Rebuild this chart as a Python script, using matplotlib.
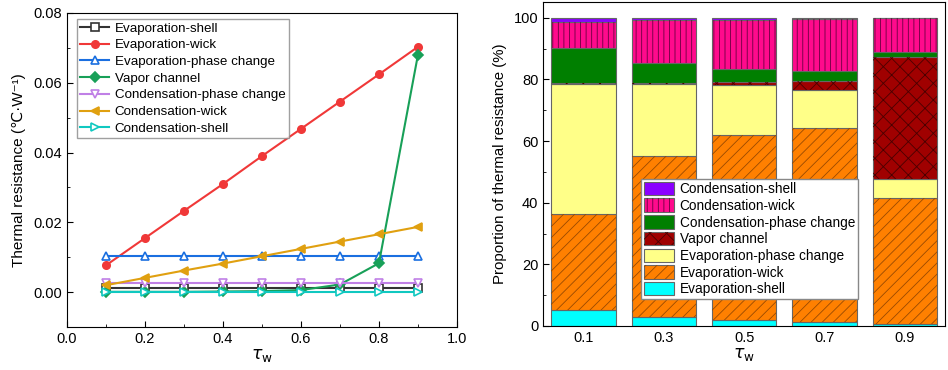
import matplotlib
matplotlib.use("Agg")
import matplotlib.pyplot as plt
from matplotlib.patches import Patch
from matplotlib.ticker import MultipleLocator
import numpy as np

plt.rcParams['font.family'] = ['Liberation Sans', 'DejaVu Sans']
plt.rcParams['mathtext.fontset'] = 'dejavusans'
plt.rcParams['hatch.linewidth'] = 0.6

# ---------------- Left chart data ----------------
tau = [0.1, 0.2, 0.3, 0.4, 0.5, 0.6, 0.7, 0.8, 0.9]
evap_shell = [0.0012, 0.0012, 0.0012, 0.0012, 0.0012, 0.0012, 0.0012, 0.0012, 0.0012]
evap_wick = [0.0077, 0.0155, 0.0233, 0.0310, 0.0390, 0.0468, 0.0546, 0.0624, 0.0703]
evap_pc = [0.0104, 0.0104, 0.0104, 0.0104, 0.0104, 0.0104, 0.0104, 0.0104, 0.0104]
vapor = [0.0001, 0.0001, 0.0001, 0.0002, 0.0003, 0.0006, 0.0022, 0.0083, 0.0680]
cond_pc = [0.0025, 0.0025, 0.0025, 0.0025, 0.0025, 0.0025, 0.0025, 0.0025, 0.0025]
cond_wick = [0.0020, 0.0041, 0.0062, 0.0082, 0.0103, 0.0124, 0.0145, 0.0166, 0.0187]
cond_shell = [0.0001, 0.0001, 0.0001, 0.0001, 0.0001, 0.0001, 0.0001, 0.0001, 0.0001]

# ---------------- Right chart data (segment %) ----------------
bar_labels = ['0.1', '0.3', '0.5', '0.7', '0.9']
p_evap_shell = [5.3, 2.8, 1.8, 1.4, 0.6]
p_evap_wick = [31.2, 52.3, 60.2, 63.0, 41.0]
p_evap_pc = [42.0, 23.4, 16.2, 12.2, 6.0]
p_vapor = [0.3, 0.3, 0.9, 2.8, 39.7]
p_cond_pc = [11.4, 6.4, 4.2, 3.4, 1.5]
p_cond_wick = [8.3, 14.1, 16.1, 16.9, 11.0]
p_cond_shell = [1.5, 0.7, 0.6, 0.3, 0.2]

fig = plt.figure(figsize=(9.48, 3.70), dpi=100)

# ================= Left =================
ax1 = fig.add_axes([0.0707, 0.116, 0.4113, 0.849])
series = [
    ("Evaporation-shell", evap_shell, '#333333', 's', 'none'),
    ("Evaporation-wick", evap_wick, '#f03838', 'o', None),
    ("Evaporation-phase change", evap_pc, '#1a6fe0', '^', 'none'),
    ("Vapor channel", vapor, '#18a058', 'D', None),
    ("Condensation-phase change", cond_pc, '#c080e6', 'v', 'none'),
    ("Condensation-wick", cond_wick, '#e0a010', '<', None),
    ("Condensation-shell", cond_shell, '#10c8c0', '>', 'none'),
]
for name, vals, col, mk, mfc in series:
    kw = dict(color=col, marker=mk, lw=1.5, markersize=5.3, label=name,
              markeredgewidth=1.2, clip_on=False)
    kw['markerfacecolor'] = 'white' if mfc == 'none' else col
    ax1.plot(tau, vals, **kw)

ax1.set_xlim(0.0, 1.0)
ax1.set_ylim(-0.01, 0.08)
ax1.xaxis.set_major_locator(MultipleLocator(0.2))
ax1.xaxis.set_minor_locator(MultipleLocator(0.1))
ax1.yaxis.set_major_locator(MultipleLocator(0.02))
ax1.yaxis.set_minor_locator(MultipleLocator(0.01))
ax1.xaxis.set_major_formatter(plt.FuncFormatter(lambda v, p: f"{v:.1f}"))
ax1.yaxis.set_major_formatter(plt.FuncFormatter(lambda v, p: f"{v:.2f}"))
ax1.tick_params(which='both', direction='in', labelsize=10.5)
ax1.tick_params(which='major', length=4)
ax1.tick_params(which='minor', length=2.5)
ax1.set_xlabel(r'$\tau_{\rm w}$', fontsize=12.5, labelpad=1)
ax1.set_ylabel('Thermal resistance (℃·W⁻¹)', fontsize=11, labelpad=5)
leg1 = ax1.legend(loc='upper left', bbox_to_anchor=(0.081, 0.949),
                  bbox_transform=fig.transFigure, borderaxespad=0,
                  fancybox=False, edgecolor='#888888', fontsize=9.6,
                  handlelength=2.2, labelspacing=0.33, borderpad=0.25,
                  handletextpad=0.4)
leg1.get_frame().set_linewidth(1.0)

# ================= Right =================
ax2 = fig.add_axes([0.573, 0.119, 0.4240, 0.876])
x = np.arange(len(bar_labels))
segs = [
    ("Evaporation-shell", p_evap_shell, '#00ffff', None, None),
    ("Evaporation-wick", p_evap_wick, '#ff8000', '///', '#9a4a00'),
    ("Evaporation-phase change", p_evap_pc, '#ffff88', None, None),
    ("Vapor channel", p_vapor, '#a00000', 'xx', '#4a0000'),
    ("Condensation-phase change", p_cond_pc, '#007f00', None, None),
    ("Condensation-wick", p_cond_wick, '#ff0a8c', '|||', '#6a0040'),
    ("Condensation-shell", p_cond_shell, '#8a00ff', None, None),
]
bottom = np.zeros(len(bar_labels))
handles = {}
for name, vals, col, hatch, hcol in segs:
    vals = np.array(vals)
    ax2.bar(x, vals, width=0.8, bottom=bottom, color=col,
            edgecolor='#666666', linewidth=0.8, zorder=2)
    fill_h = Patch(facecolor=col, edgecolor='#666666', linewidth=0.8)
    if hatch:
        ax2.bar(x, vals, width=0.8, bottom=bottom, fill=False,
                hatch=hatch, edgecolor=hcol, linewidth=0, zorder=3)
        hatch_h = Patch(facecolor='none', edgecolor=hcol, hatch=hatch, linewidth=0)
        handles[name] = (fill_h, hatch_h)
    else:
        handles[name] = fill_h
    bottom += vals

ax2.set_xlim(-0.5, 4.5)
ax2.set_ylim(0, 105.2)
ax2.set_xticks(x)
ax2.set_xticklabels(bar_labels)
ax2.yaxis.set_major_locator(MultipleLocator(20))
ax2.yaxis.set_minor_locator(MultipleLocator(10))
ax2.tick_params(which='both', direction='in', labelsize=10.5)
ax2.tick_params(which='major', length=4)
ax2.tick_params(which='minor', length=2.5)
ax2.tick_params(axis='x', which='minor', bottom=False)
ax2.set_xlabel(r'$\tau_{\rm w}$', fontsize=12.5, labelpad=1)
ax2.set_ylabel('Proportion of thermal resistance (%)', fontsize=10.8, labelpad=5)

order = [s[0] for s in segs][::-1]
leg2 = ax2.legend([handles[n] for n in order], order, loc='upper left',
                  bbox_to_anchor=(0.676, 0.516), bbox_transform=fig.transFigure,
                  borderaxespad=0, fancybox=False, edgecolor='#888888',
                  fontsize=9.8, handlelength=2.2, handleheight=1.15,
                  labelspacing=0.17, borderpad=0.2, handletextpad=0.45,
                  framealpha=1)
leg2.get_frame().set_linewidth(1.0)
leg2.set_zorder(5)

fig.savefig('out.png', dpi=100)
